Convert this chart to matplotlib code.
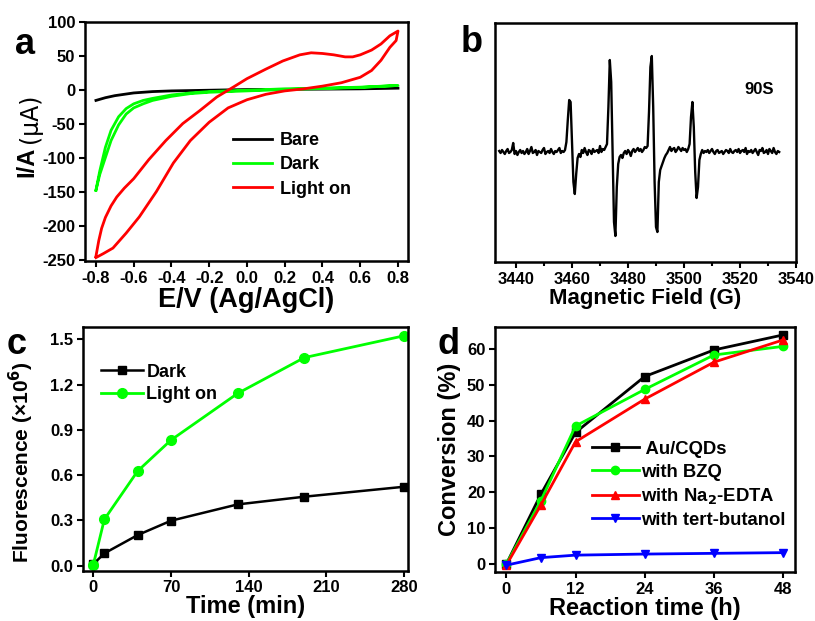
import numpy as np
import matplotlib
matplotlib.use("Agg")
import matplotlib.pyplot as plt
from matplotlib.ticker import MultipleLocator

plt.rcParams['font.family'] = ['Liberation Sans', 'DejaVu Sans']
plt.rcParams['font.weight'] = 'bold'
plt.rcParams['axes.labelweight'] = 'bold'
plt.rcParams['mathtext.default'] = 'bf'
plt.rcParams['axes.unicode_minus'] = False

# ---------------- Panel a: cyclic voltammetry ----------------
cvBareE = [-0.80, -0.75, -0.70, -0.65, -0.60, -0.50, -0.40, -0.30, -0.20, -0.10, 0.00, 0.20, 0.40, 0.60, 0.80]
cvBareI = [-16, -12, -9, -7, -5, -3, -2, -1.5, -1, -0.5, 0, 0.3, 0.6, 1, 2]

cvDarkE = [-0.80, -0.78, -0.75, -0.72, -0.68, -0.64, -0.60, -0.55, -0.50, -0.40, -0.30, -0.20, 0.00, 0.20, 0.40, 0.60, 0.80,
           0.60, 0.40, 0.20, 0.00, -0.20, -0.30, -0.40, -0.50, -0.55, -0.60, -0.64, -0.68, -0.72, -0.75, -0.78, -0.80]
cvDarkI = [-148, -120, -85, -60, -40, -28, -21, -16, -13, -8, -5, -3, -1, 1, 2, 3.5, 6,
           3, 1.5, 0, -2, -4, -6, -10, -16, -21, -27, -36, -52, -75, -100, -125, -148]

cvLightE = [-0.80, -0.785, -0.77, -0.75, -0.72, -0.69, -0.65, -0.60, -0.52, -0.43, -0.34, -0.25, -0.16, -0.07, 0.00,
            0.10, 0.19, 0.28, 0.34, 0.40, 0.46, 0.52, 0.56, 0.60, 0.66, 0.71, 0.757, 0.80,
            0.79, 0.757, 0.71, 0.66, 0.60, 0.50, 0.40, 0.30, 0.20, 0.10, 0.00, -0.10, -0.20, -0.30, -0.39,
            -0.48, -0.57, -0.64, -0.71, -0.76, -0.80]
cvLightI = [-245, -222, -204, -188, -171, -158, -145, -131, -103, -75, -50, -31, -11, 4, 16,
            30, 42, 51, 54, 53, 51, 48, 48, 51, 58, 67, 79, 86,
            72, 62, 43, 28, 18, 10, 5, 1, -2, -7, -15, -27, -48, -75, -108,
            -150, -187, -211, -233, -241, -247]

# ---------------- Panel b: EPR spectrum ----------------
eprStart = 3434.0
eprStep = 0.5
eprSignal = [
    1, -1, 2, 0, -2, 1, 3, -1, 0, 2,
    9, -2, 1, -3, 0, 2, -1, 1, -2, 0,
    3, -2, 1, 5, -1, 0, 2, -3, 1, 0,
    -1, 2, 4, -2, 0, 1, -1, 3, 0, -2,
    1, 0, 2, 4, -1, 1, 0, 2, 10, 32,
    52, 50, 10, -30, -42, -22, -6, -2, -5, 2,
    -1, 4, 0, -3, 2, 1, -2, 3, 0, 1,
    2, -1, 6, 0, 3, 2, 5, 8, 45, 92,
    70, 0, -70, -84, -35, -12, -5, -3, -6, -1,
    1, -2, 2, 0, -4, 1, 3, 0, 2, 4,
    1, 3, 0, 2, 5, 4, 6, 40, 85, 96,
    45, -30, -75, -80, -30, -18, -14, -10, -6, -3,
    -1, 2, 5, 1, 3, 4, 0, 2, 5, 3,
    1, 4, 2, 3, 0, 3, 8, 35, 50, 25,
    -20, -46, -35, -8, -2, 2, -1, 1, 0, 2,
    -1, 1, 3, 0, -2, 1, 2, -1, 0, 1,
    -2, 0, 2, 1, -1, 3, 0, -1, 1, 2,
    0, 3, -1, 1, 2, 0, 4, -2, 1, 0,
    2, -1, 1, 3, 0, -3, 2, 1, 4, -1,
    0, 2, -2, 3, 1, -1, 4, 0, -2, 1,
    0,
]
eprField = eprStart + eprStep * np.arange(len(eprSignal))

# ---------------- Panel c: fluorescence ----------------
timeMin = [0, 10, 40, 70, 130, 190, 280]
fluoDark = [0.01, 0.082, 0.203, 0.298, 0.406, 0.457, 0.523]
fluoLight = [0.005, 0.307, 0.627, 0.832, 1.141, 1.378, 1.523]

# ---------------- Panel d: conversion ----------------
reactTime = [0, 6, 12, 24, 36, 48]
convAu = [0.0, 19.5, 36.7, 52.3, 59.7, 63.9]
convBZQ = [0.0, 17.7, 38.5, 48.7, 58.3, 60.7]
convEDTA = [-0.3, 16.5, 34.1, 46.0, 56.3, 62.5]
convTBA = [-0.3, 1.8, 2.5, 2.8, 3.0, 3.2]

W, H = 815, 621
fig = plt.figure(figsize=(W / 100, H / 100), dpi=100)

def rect(l, t, r, b):
    return [l / W, 1 - b / H, (r - l) / W, (b - t) / H]

TICK = 12
LAB = 16

def style(ax):
    for s in ax.spines.values():
        s.set_linewidth(1.8)
    ax.tick_params(direction='out', length=4, width=1.5, labelsize=TICK, pad=3)
    for lab in ax.get_xticklabels() + ax.get_yticklabels():
        lab.set_fontweight('bold')

# Panel a
axa = fig.add_axes(rect(85, 21.5, 408, 261))
axa.plot(cvBareE, cvBareI, color='black', lw=2)
axa.plot(cvDarkE, cvDarkI, color='#00FF00', lw=2)
axa.plot(cvLightE, cvLightI, color='#FF0000', lw=2)
axa.set_xlim(-0.858, 0.853)
axa.set_ylim(-252, 100)
axa.set_xticks(np.arange(-0.8, 0.81, 0.2))
axa.set_xticklabels(['-0.8', '-0.6', '-0.4', '-0.2', '0.0', '0.2', '0.4', '0.6', '0.8'])
axa.set_yticks(np.arange(-250, 101, 50))
style(axa)
axa.set_xlabel('E/V (Ag/AgCl)', fontsize=19.5, fontweight='bold', labelpad=1)
fig.text(27 / W, 1 - 162 / H, 'I/A', rotation=90, fontsize=17, fontweight='bold', ha='center', va='center')
fig.text(30 / W, 1 - 118 / H, '(μA)', rotation=90, fontsize=17, fontweight='normal',
         family='DejaVu Sans', ha='center', va='center')
axa.legend(['Bare', 'Dark', 'Light on'], loc='upper left', bbox_to_anchor=(0.435, 0.568), frameon=False,
           fontsize=13, handlelength=2.2, handletextpad=0.4, labelspacing=0.4, borderaxespad=0)
fig.text(25 / W, 1 - 44 / H, 'a', fontsize=26, fontweight='bold', ha='center', va='center')

# Panel b
axb = fig.add_axes(rect(495, 23, 796, 262))
axb.plot(eprField, eprSignal, color='black', lw=1.7)
axb.set_xlim(3432.5, 3540)
axb.set_ylim(-110, 129)
axb.set_xticks(np.arange(3440, 3541, 20))
axb.xaxis.set_minor_locator(MultipleLocator(10))
axb.set_yticks([])
style(axb)
axb.tick_params(axis='x', which='minor', direction='out', length=3, width=1.5)
axb.set_xlabel('Magnetic Field (G)', fontsize=LAB, fontweight='bold', labelpad=1)
axb.text(0.877, 0.72, '90S', transform=axb.transAxes, fontsize=12, fontweight='bold', ha='center', va='center')
fig.text(472 / W, 1 - 42 / H, 'b', fontsize=26, fontweight='bold', ha='center', va='center')

# Panel c
axc = fig.add_axes(rect(82.7, 327.3, 407.5, 570.7))
axc.plot(timeMin, fluoDark, color='black', lw=1.8, marker='s', ms=6, label='Dark')
axc.plot(timeMin, fluoLight, color='#00FF00', lw=2, marker='o', ms=7, label='Light on')
axc.set_xlim(-9.5, 283)
axc.set_ylim(-0.033, 1.579)
axc.set_xticks([0, 70, 140, 210, 280])
axc.set_yticks([0.0, 0.3, 0.6, 0.9, 1.2, 1.5])
axc.set_yticklabels(['0.0', '0.3', '0.6', '0.9', '1.2', '1.5'])
style(axc)
axc.set_xlabel('Time (min)', fontsize=LAB + 1, fontweight='bold', labelpad=0)
axc.set_ylabel('Fluorescence (×10$^6$)', fontsize=15, fontweight='bold')
axc.yaxis.set_label_coords(-0.143, 0.447)
axc.legend(loc='upper left', bbox_to_anchor=(0.035, 0.88), frameon=False, fontsize=13,
           handlelength=2.3, handletextpad=0.2, labelspacing=0.3, borderaxespad=0, numpoints=1)
fig.text(17 / W, 1 - 344 / H, 'c', fontsize=26, fontweight='bold', ha='center', va='center')

# Panel d
axd = fig.add_axes(rect(495, 327, 795, 572))
axd.plot(reactTime, convAu, color='black', lw=2, marker='s', ms=6, label=' Au/CQDs')
axd.plot(reactTime, convBZQ, color='#00FF00', lw=2, marker='o', ms=6, label='with BZQ')
axd.plot(reactTime, convEDTA, color='#FF0000', lw=2, marker='^', ms=6, label='with Na$_2$-EDTA')
axd.plot(reactTime, convTBA, color='#0000FF', lw=2, marker='v', ms=6, label='with tert-butanol')
axd.set_xlim(-1.96, 50.05)
axd.set_ylim(-2.2, 66.1)
axd.set_xticks([0, 12, 24, 36, 48])
axd.set_yticks(np.arange(0, 61, 10))
style(axd)
axd.set_xlabel('Reaction time (h)', fontsize=LAB + 1, fontweight='bold', labelpad=0)
axd.set_ylabel('Conversion (%)', fontsize=LAB + 1, fontweight='bold', labelpad=4)
axd.legend(loc='upper left', bbox_to_anchor=(0.30, 0.565), frameon=False, fontsize=13.3,
           handlelength=2.5, handletextpad=0.15, labelspacing=0.3, borderaxespad=0, numpoints=1)
fig.text(449 / W, 1 - 345 / H, 'd', fontsize=26, fontweight='bold', ha='center', va='center')

fig.savefig('out.png', dpi=100)
